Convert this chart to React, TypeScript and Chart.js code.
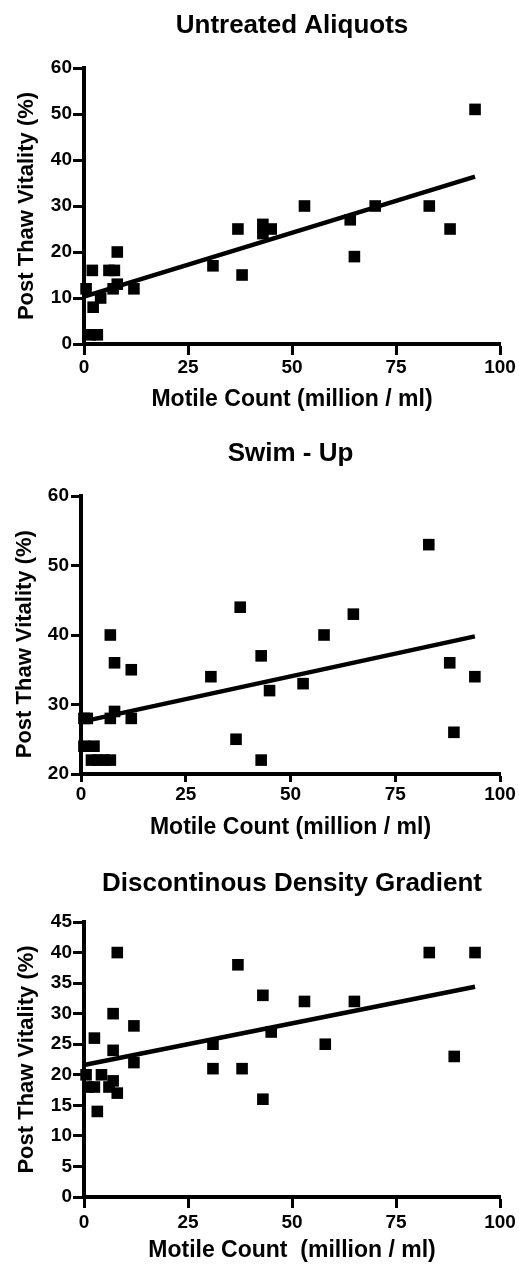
import React, { useEffect, useRef } from 'react';
import { Chart, registerables } from 'chart.js';

Chart.register(...registerables);

// ---------- data ----------
const untreatedX = [0.5, 2, 2.2, 4, 1.5, 3.2, 6, 7.3, 7, 8, 8, 12, 31, 37, 38, 43, 43, 45, 53, 64, 65, 70, 83, 88, 94];
const untreatedY = [12, 16, 8, 10, 2, 2, 16, 16, 12, 13, 20, 12, 17, 25, 15, 26, 24, 25, 30, 27, 19, 30, 30, 25, 51];
const untreatedFitX = [0, 94];
const untreatedFitY = [10.3, 36.4];

const swimX = [7, 38, 58, 65, 83, 8, 12, 31, 43, 45, 53, 88, 94, 89, 37, 43, 0.7, 1.5, 7, 8, 12, 0.7, 3.1, 2.5, 4, 5.5, 7];
const swimY = [40, 44, 40, 43, 53, 36, 35, 34, 37, 32, 33, 36, 34, 26, 25, 22, 28, 28, 28, 29, 28, 24, 24, 22, 22, 22, 22];
const swimFitX = [0, 94];
const swimFitY = [27.5, 39.8];

const gradientX = [8, 37, 43, 53, 65, 83, 94, 7, 12, 2.5, 7, 31, 45, 58, 89, 12, 31, 38, 43, 0.5, 1, 2.5, 4.2, 6, 7, 8, 3.2];
const gradientY = [40, 38, 33, 32, 32, 40, 40, 30, 28, 26, 24, 25, 27, 25, 23, 22, 21, 21, 16, 20, 18, 18, 20, 18, 19, 17, 14];
const gradientFitX = [0, 94];
const gradientFitY = [21.6, 34.4];

const xTickValues = [0, 25, 50, 75, 100];

const titles = ['Untreated Aliquots', 'Swim - Up', 'Discontinous Density Gradient'];
const xAxisTitles = ['Motile Count (million / ml)', 'Motile Count (million / ml)', 'Motile Count  (million / ml)'];
const yAxisTitles = ['Post Thaw Vitality (%)', 'Post Thaw Vitality (%)   ', 'Post Thaw Vitality (%)'];
const yRanges = [
  [0, 60, 10],
  [20, 60, 10],
  [0, 45, 5],
];

// ---------- layout (styles only) ----------
const FONT = "'Liberation Sans', Arial, Helvetica, sans-serif";
const panelLayouts = [
  { top: 0, height: 420, left: 84, xH: 76, tPadTop: 10.4, tPadBot: 26.4, yTitlePad: 13.8, xTitlePad: 6.7, xTick: 11, xTickPad: 1.5, yTick: 11, yTickPad: 1 },
  { top: 420, height: 424, left: 81, xH: 70, tPadTop: 17.9, tPadBot: 26.9, yTitlePad: 11.8, xTitlePad: 2.7, xTick: 8, xTickPad: 1.5, yTick: 10, yTickPad: 2 },
  { top: 844, height: 420, left: 84, xH: 67, tPadTop: 23.9, tPadBot: 22.9, yTitlePad: 13.3, xTitlePad: 0, xTick: 11, xTickPad: 3, yTick: 11, yTickPad: 1 },
];

const seriesX = [untreatedX, swimX, gradientX];
const seriesY = [untreatedY, swimY, gradientY];
const fitXs = [untreatedFitX, swimFitX, gradientFitX];
const fitYs = [untreatedFitY, swimFitY, gradientFitY];

function Panel({ idx }: { idx: number }) {
  const ref = useRef<HTMLCanvasElement | null>(null);
  const L = panelLayouts[idx];
  useEffect(() => {
    if (!ref.current) return;
    const pts = seriesX[idx].map((x, i) => ({ x, y: seriesY[idx][i] }));
    const fit = fitXs[idx].map((x, i) => ({ x, y: fitYs[idx][i] }));
    const [ymin, ymax, ystep] = yRanges[idx];
    const chart = new Chart(ref.current, {
      type: 'scatter',
      data: {
        datasets: [
          {
            data: pts,
            pointStyle: 'rect',
            pointRadius: 8.2,
            pointBorderWidth: 0,
            backgroundColor: '#000',
            borderColor: '#000',
            showLine: false,
            clip: false,
          } as any,
          {
            data: fit,
            showLine: true,
            pointRadius: 0,
            borderColor: '#000',
            borderWidth: 4.5,
            borderCapStyle: 'butt',
            clip: false,
          } as any,
        ],
      },
      options: {
        responsive: false,
        animation: false,
        devicePixelRatio: 1,
        layout: { padding: { left: 0, right: 19, top: 0, bottom: 0 } },
        plugins: {
          legend: { display: false },
          tooltip: { enabled: false },
          title: {
            display: true,
            text: titles[idx],
            color: '#000',
            fullSize: false,
            font: { family: FONT, size: 26, weight: 'bold', lineHeight: 1.2 },
            padding: { top: L.tPadTop, bottom: L.tPadBot },
          },
        },
        scales: {
          x: {
            type: 'linear',
            min: 0,
            max: 100,
            afterBuildTicks: (s: any) => {
              s.ticks = xTickValues.map((v) => ({ value: v }));
            },
            afterFit: (s: any) => {
              s.height = L.xH;
            },
            ticks: {
              color: '#000',
              font: { family: FONT, size: 19, weight: 'bold' },
              padding: L.xTickPad,
              maxRotation: 0,
            },
            grid: {
              display: true,
              drawOnChartArea: false,
              drawTicks: true,
              tickLength: L.xTick,
              tickWidth: 3,
              tickColor: '#000',
            },
            border: { display: true, width: 4, color: '#000' },
            title: {
              display: true,
              text: xAxisTitles[idx],
              color: '#000',
              font: { family: FONT, size: 23, weight: 'bold', lineHeight: 1.2 },
              padding: { top: 0, bottom: L.xTitlePad },
            },
          },
          y: {
            type: 'linear',
            min: ymin,
            max: ymax,
            afterFit: (s: any) => {
              s.width = L.left;
            },
            ticks: {
              stepSize: ystep,
              color: '#000',
              font: { family: FONT, size: 19, weight: 'bold' },
              padding: L.yTickPad,
            },
            grid: {
              display: true,
              drawOnChartArea: false,
              drawTicks: true,
              tickLength: L.yTick,
              tickWidth: 3,
              tickColor: '#000',
            },
            border: { display: true, width: 4, color: '#000' },
            title: {
              display: true,
              text: yAxisTitles[idx],
              color: '#000',
              font: { family: FONT, size: 22, weight: 'bold', lineHeight: 1.2 },
              padding: { top: L.yTitlePad, bottom: 0 },
            },
          },
        },
      } as any,
    });
    return () => chart.destroy();
  }, [idx]);
  return (
    <canvas
      ref={ref}
      width={519}
      height={L.height}
      style={{ position: 'absolute', left: 0, top: L.top, width: 519, height: L.height, display: 'block' }}
    />
  );
}

export default function App() {
  return (
    <div style={{ position: 'absolute', left: 0, top: 0, width: 519, height: 1264, background: '#fff' }}>
      <Panel idx={0} />
      <Panel idx={1} />
      <Panel idx={2} />
    </div>
  );
}
